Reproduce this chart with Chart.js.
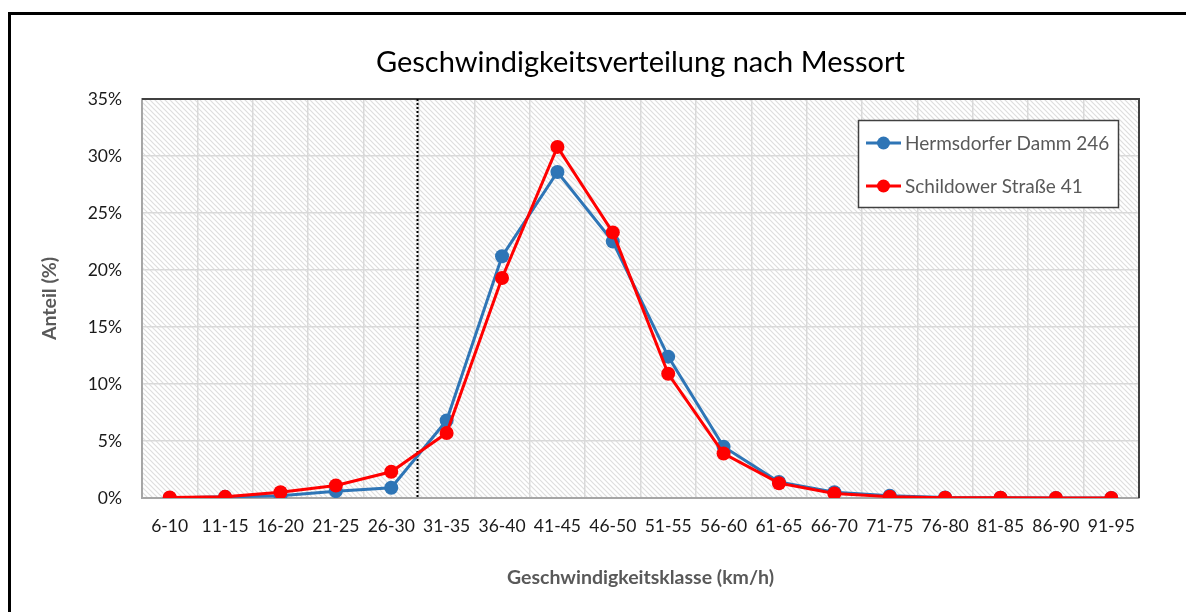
<!DOCTYPE html>
<html>
<head>
<meta charset="utf-8">
<script src="https://cdn.jsdelivr.net/npm/chart.js@4"></script>
<style>
  html, body { margin: 0; padding: 0; background: #fff; }
  #wrap { width: 1186px; height: 612px; position: relative; }
</style>
</head>
<body>
<div id="wrap"><canvas id="c" width="1186" height="612"></canvas></div>
<script>
const chartTitle = 'Geschwindigkeitsverteilung nach Messort';
const xAxisTitle = 'Geschwindigkeitsklasse (km/h)';
const yAxisTitle = 'Anteil (%)';
const categories = ['6-10','11-15','16-20','21-25','26-30','31-35','36-40','41-45','46-50',
                    '51-55','56-60','61-65','66-70','71-75','76-80','81-85','86-90','91-95'];
const seriesNames = ['Hermsdorfer Damm 246', 'Schildower Straße 41'];
const hermsdorf = [0.0, 0.1, 0.2, 0.6, 0.9, 6.8, 21.2, 28.6, 22.5, 12.4, 4.5, 1.4, 0.5, 0.2, 0.05, 0.02, 0.01, 0.01];
const schildow  = [0.05, 0.1, 0.5, 1.1, 2.3, 5.7, 19.3, 30.8, 23.3, 10.9, 3.9, 1.3, 0.4, 0.12, 0.03, 0.02, 0.01, 0.01];
const yTicks = [0, 5, 10, 15, 20, 25, 30, 35];
const markerBoundaryIndex = 4.5; // between 26-30 and 31-35

const BLUE = '#2e75b6';
const RED = '#ff0000';
Chart.defaults.font.family = 'Lato, "Open Sans", sans-serif';

function makeHatch() {
  const t = document.createElement('canvas');
  t.width = 5; t.height = 5;
  const g = t.getContext('2d');
  g.fillStyle = '#ffffff';
  g.fillRect(0, 0, 5, 5);
  g.strokeStyle = '#dedede';
  g.lineWidth = 1.2;
  g.beginPath();
  g.moveTo(-1, -1); g.lineTo(6, 6);
  g.moveTo(-1, 4); g.lineTo(1, 6);
  g.moveTo(4, -1); g.lineTo(6, 1);
  g.stroke();
  return t;
}

const decor = {
  id: 'decor',
  beforeDraw(chart) {
    const ctx = chart.ctx, a = chart.chartArea;
    ctx.save();
    ctx.fillStyle = '#fff';
    ctx.fillRect(0, 0, chart.width, chart.height);
    // outer frame
    ctx.strokeStyle = '#000';
    ctx.lineWidth = 3;
    ctx.beginPath();
    ctx.moveTo(9.5, chart.height + 2);
    ctx.lineTo(9.5, 13.5);
    ctx.lineTo(chart.width + 2, 13.5);
    ctx.stroke();
    // hatched plot background
    ctx.fillStyle = ctx.createPattern(makeHatch(), 'repeat');
    ctx.fillRect(a.left, a.top, a.right - a.left, a.bottom - a.top);
    ctx.restore();
  },
  beforeDatasetsDraw(chart) {
    const ctx = chart.ctx, a = chart.chartArea;
    ctx.save();
    // top & right border
    ctx.strokeStyle = '#404040';
    ctx.lineWidth = 2;
    ctx.beginPath();
    ctx.moveTo(a.left, a.top);
    ctx.lineTo(a.right, a.top);
    ctx.lineTo(a.right, a.bottom);
    ctx.stroke();
    // dotted marker line
    const x = Math.round(chart.scales.x.getPixelForValue(markerBoundaryIndex)) - 1.5;
    ctx.strokeStyle = '#000';
    ctx.lineWidth = 2;
    ctx.setLineDash([2, 2]);
    ctx.beginPath();
    ctx.moveTo(x, a.top);
    ctx.lineTo(x, a.bottom);
    ctx.stroke();
    ctx.restore();
  },
  afterDraw(chart) {
    const ctx = chart.ctx;
    ctx.save();
    const bx = 858.5, by = 120.5, bw = 260, bh = 87;
    ctx.fillStyle = '#fff';
    ctx.fillRect(bx, by, bw, bh);
    ctx.strokeStyle = '#404040';
    ctx.lineWidth = 1.5;
    ctx.strokeRect(bx, by, bw, bh);
    const rows = [143, 186];
    chart.data.datasets.forEach((ds, i) => {
      const y = rows[i];
      ctx.strokeStyle = ds.borderColor;
      ctx.lineWidth = 3;
      ctx.beginPath();
      ctx.moveTo(866, y); ctx.lineTo(901, y);
      ctx.stroke();
      ctx.fillStyle = ds.backgroundColor;
      ctx.beginPath();
      ctx.arc(883.5, y, 6.5, 0, Math.PI * 2);
      ctx.fill();
      ctx.fillStyle = '#595959';
      ctx.font = '19px Lato, "Open Sans", sans-serif';
      ctx.textBaseline = 'middle';
      ctx.textAlign = 'left';
      ctx.fillText(ds.label, 905, y + 1);
    });
    ctx.restore();
  }
};

new Chart(document.getElementById('c'), {
  type: 'line',
  data: {
    labels: categories,
    datasets: [
      { label: seriesNames[0], data: hermsdorf, borderColor: BLUE, backgroundColor: BLUE,
        borderWidth: 3, pointRadius: 7, pointHoverRadius: 7, pointBorderWidth: 0, tension: 0, order: 1 },
      { label: seriesNames[1], data: schildow, borderColor: RED, backgroundColor: RED,
        borderWidth: 3, pointRadius: 7, pointHoverRadius: 7, pointBorderWidth: 0, tension: 0, order: 0 }
    ]
  },
  options: {
    responsive: false,
    animation: false,
    events: [],
    layout: { padding: { left: 0, top: 0, right: 47, bottom: 0 } },
    plugins: {
      legend: { display: false },
      tooltip: { enabled: false },
      title: {
        display: true,
        fullSize: false,
        text: chartTitle,
        color: '#000',
        font: { size: 29, weight: 'normal', lineHeight: 1.2 },
        padding: { top: 45.6, bottom: 18.6 }
      }
    },
    scales: {
      x: {
        type: 'category',
        offset: true,
        grid: { offset: true, color: '#d9d9d9', lineWidth: 1.5, drawTicks: false },
        border: { display: true, color: '#a6a6a6', width: 2 },
        ticks: { color: '#1a1a1a', font: { size: 17.5 }, padding: 18, maxRotation: 0, autoSkip: false },
        title: { display: true, text: xAxisTitle, color: '#595959',
                 font: { size: 19.5, weight: 'bold' }, padding: { top: 0, bottom: 22.3 } },
        afterFit(s) { s.height = 114; }
      },
      y: {
        min: 0, max: 35,
        afterBuildTicks(s) { s.ticks = yTicks.map(v => ({ value: v })); },
        grid: { color: '#d9d9d9', lineWidth: 1.5, drawTicks: false },
        border: { display: true, color: '#a6a6a6', width: 2 },
        ticks: { color: '#1a1a1a', font: { size: 17.5 }, padding: 20, callback: v => v + '%' },
        title: { display: true, text: yAxisTitle, color: '#595959',
                 font: { size: 19.5, weight: 'bold' }, padding: { top: 38.3, bottom: 0 } },
        afterFit(s) { s.width = 142; }
      }
    }
  },
  plugins: [decor]
});
</script>
</body>
</html>
